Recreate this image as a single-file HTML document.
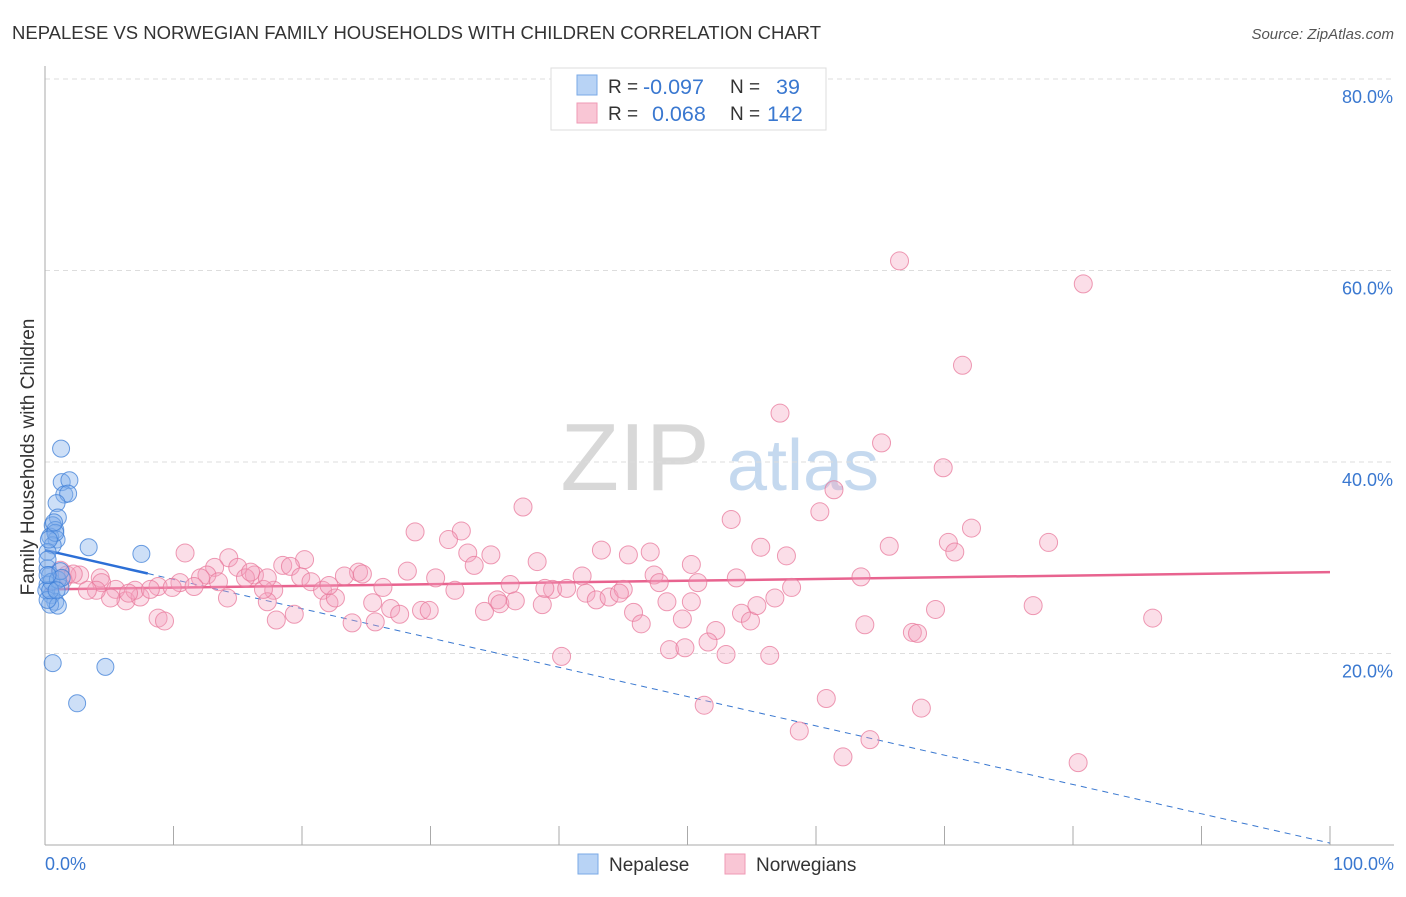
<!DOCTYPE html>
<html><head><meta charset="utf-8"><style>
body{margin:0;background:#fff;font-family:"Liberation Sans",sans-serif;}
svg text{font-family:"Liberation Sans",sans-serif;}
</style></head><body>
<svg id="chart" width="1406" height="892" xmlns="http://www.w3.org/2000/svg">
<text x="12" y="39" font-size="18.5" fill="#333" textLength="809" lengthAdjust="spacingAndGlyphs">NEPALESE VS NORWEGIAN FAMILY HOUSEHOLDS WITH CHILDREN CORRELATION CHART</text>
<text x="1394" y="39" font-size="15" fill="#555" font-style="italic" text-anchor="end">Source: ZipAtlas.com</text>
<g><text x="635" y="490" font-size="96" fill="#d8d8d8" font-family="Liberation Serif" text-anchor="middle">ZIP</text><text x="803" y="490" font-size="72" fill="#c5d9ef" text-anchor="middle">atlas</text></g>
<g id="grid"></g><g id="axes"></g><g id="trends"></g><g id="pts"></g>
<text transform="translate(34,457) rotate(-90)" font-size="19" fill="#333" text-anchor="middle">Family Households with Children</text>
<text x="45" y="870" font-size="18" fill="#3a78d0">0.0%</text>
<text x="1394" y="870" font-size="18" fill="#3a78d0" text-anchor="end">100.0%</text>
<g>
<rect x="551" y="68" width="275" height="62" fill="#fff" stroke="#ddd"/>
<rect x="577" y="75" width="20" height="20" fill="#b8d3f5" stroke="#7aaae6"/>
<rect x="577" y="103" width="20" height="20" fill="#f9c6d5" stroke="#ef9ab5"/>
<text x="608" y="93" font-size="19" fill="#333">R =</text><text x="643" y="94" font-size="21.5" fill="#3a78d0">-0.097</text>
<text x="730" y="93" font-size="19" fill="#333">N =</text><text x="776" y="94" font-size="21.5" fill="#3a78d0">39</text>
<text x="608" y="120" font-size="19" fill="#333">R =</text><text x="652" y="121" font-size="21.5" fill="#3a78d0">0.068</text>
<text x="730" y="120" font-size="19" fill="#333">N =</text><text x="767" y="121" font-size="21.5" fill="#3a78d0">142</text>
</g>
<g>
<rect x="578" y="854" width="20" height="20" fill="#b8d3f5" stroke="#7aaae6"/>
<text x="609" y="871" font-size="19" fill="#333">Nepalese</text>
<rect x="725" y="854" width="20" height="20" fill="#f9c6d5" stroke="#ef9ab5"/>
<text x="756" y="871" font-size="19" fill="#333">Norwegians</text>
</g>
</svg>
<script>
const yTicks=[20,40,60,80];
const yTickLabels=["20.0%","40.0%","60.0%","80.0%"];
const xTicks=[0,10,20,30,40,50,60,70,80,90,100];
const nepX=[1.25,1.3,1.9,1.5,1.8,0.9,1.0,0.6,0.8,0.4,0.9,0.6,3.4,7.5,0.2,0.2,0.4,0.2,0.5,1.2,0.8,0.4,1.0,0.6,4.7,2.5,0.1,0.2,0.5,1.0,1.2,0.8,0.2,0.3,0.7,1.3,0.4,0.9,0.2];
const nepY=[41.4,37.9,38.1,36.6,36.7,35.7,34.2,33.4,32.9,32.2,31.9,31.3,31.1,30.4,30.6,28.9,28.2,27.2,26.1,26.9,25.4,25.1,25.0,19.0,18.6,14.8,26.6,29.8,27.5,27.7,28.6,32.6,25.6,31.9,33.7,27.9,26.6,26.6,28.2];
const norX=[66.5,80.8,71.4,57.2,65.1,69.9,61.4,37.2,53.4,60.3,28.8,32.4,31.4,72.1,78.1,70.3,65.7,70.8,43.3,45.4,47.1,55.7,34.7,32.9,38.3,57.7,10.9,14.3,13.2,15.0,18.5,20.2,19.1,50.3,33.4,28.2,30.4,24.4,24.7,23.3,19.9,16.3,15.6,12.6,12.1,10.5,8.8,4.3,2.7,1.7,1.2,1.4,2.2,4.4,5.5,6.3,7.4,7.0,8.2,9.9,11.6,13.5,17.8,20.7,21.6,22.1,22.6,26.3,25.5,26.9,27.6,29.3,29.9,31.9,34.2,35.2,36.2,35.4,36.6,38.7,39.5,40.6,41.8,42.1,42.9,43.9,45.0,47.4,47.8,48.4,50.8,53.8,45.8,46.4,49.6,52.2,54.2,54.9,55.4,56.8,58.1,63.5,63.8,67.5,67.9,69.3,76.9,86.2,40.2,48.6,49.8,51.6,53.0,56.4,60.8,51.3,68.2,58.7,64.2,62.1,80.4,8.8,9.3,14.2,17.3,18.0,19.4,23.9,25.7,17.0,22.1,5.1,6.5,4.0,3.3,17.3,16.0,38.9,44.7,50.3];
const norY=[61.0,58.6,50.1,45.1,42.0,39.4,37.1,35.3,34.0,34.8,32.7,32.8,31.9,33.1,31.6,31.6,31.2,30.6,30.8,30.3,30.6,31.1,30.3,30.5,29.6,30.2,30.5,30.0,29.0,29.0,29.2,29.8,29.1,29.3,29.2,28.6,27.9,28.5,28.3,28.1,28.0,28.2,27.9,28.2,27.9,27.4,27.0,27.9,28.2,28.2,28.7,27.7,28.3,27.4,26.7,25.5,25.9,26.6,26.7,26.9,27.0,27.5,26.6,27.5,26.6,25.3,25.8,26.9,25.3,24.7,24.1,24.5,24.5,26.6,24.4,25.6,27.2,25.2,25.5,25.1,26.7,26.8,28.1,26.3,25.6,25.9,26.7,28.2,27.4,25.4,27.4,27.9,24.3,23.1,23.6,22.4,24.2,23.4,25.0,25.8,26.9,28.0,23.0,22.2,22.1,24.6,25.0,23.7,19.7,20.4,20.6,21.2,19.9,19.8,15.3,14.6,14.3,11.9,11.0,9.2,8.6,23.7,23.4,25.8,25.4,23.5,24.1,23.2,23.3,26.7,27.1,25.8,26.3,26.6,26.6,27.9,28.5,26.8,26.3,25.4];
const nepTrend=[30.8,-0.306]; // intercept, slope
const norTrend=[26.7,0.018];
const X0=45,X1=1330,Y0=845,YPER=9.575;
const sx=v=>X0+(X1-X0)*v/100, sy=v=>Y0-v*YPER;
const NS="http://www.w3.org/2000/svg";
function mk(tag,attrs,parent){const e=document.createElementNS(NS,tag);for(const k in attrs)e.setAttribute(k,attrs[k]);document.getElementById(parent).appendChild(e);return e;}
mk('line',{x1:45,y1:79,x2:1394,y2:79,stroke:"#ddd","stroke-dasharray":"5,4"},'grid');
yTicks.forEach((t,i)=>{
 const g=mk('line',{x1:45,y1:sy(t),x2:1394,y2:sy(t),stroke:"#ddd","stroke-dasharray":"5,4"},'grid');
 
 
 const l=mk('text',{x:1393,y:sy(t)+24,"font-size":18,fill:"#3a78d0","text-anchor":"end"},'grid');
 l.textContent=yTickLabels[i];
 
 
});
const ya=mk('line',{x1:45,y1:66,x2:45,y2:845,stroke:"#aaa"},'axes');


const xa=mk('line',{x1:45,y1:845,x2:1394,y2:845,stroke:"#aaa"},'axes');


xTicks.forEach(t=>{const tk=mk('line',{x1:sx(t),y1:826,x2:sx(t),y2:845,stroke:"#aaa"},'axes');
 
 });
function tl(tr,a,b,col,w,dash,name){const e=mk('line',{x1:sx(a),y1:sy(tr[0]+tr[1]*a),x2:sx(b),y2:sy(tr[0]+tr[1]*b),stroke:col,"stroke-width":w},'trends');if(dash)e.setAttribute('stroke-dasharray',dash);
 
 }
tl(nepTrend,8,100,"#3a78d0",1,"6,5",'nepalese-trend-extension');
tl(nepTrend,0,8,"#2c6fd6",2.5,null,'nepalese-trend-line');
tl(norTrend,0,100,"#e8638f",2.5,null,'norwegians-trend-line');
norX.forEach((x,i)=>{const c=mk('circle',{cx:sx(x),cy:sy(norY[i]),r:9,fill:"rgba(244,160,188,0.35)",stroke:"rgba(232,120,155,0.75)","stroke-width":1},'pts');
 
 });
nepX.forEach((x,i)=>{const c=mk('circle',{cx:sx(x),cy:sy(nepY[i]),r:8.5,fill:"rgba(130,175,235,0.4)",stroke:"rgba(60,125,215,0.75)","stroke-width":1},'pts');
 
 });
</script>
</body></html>
